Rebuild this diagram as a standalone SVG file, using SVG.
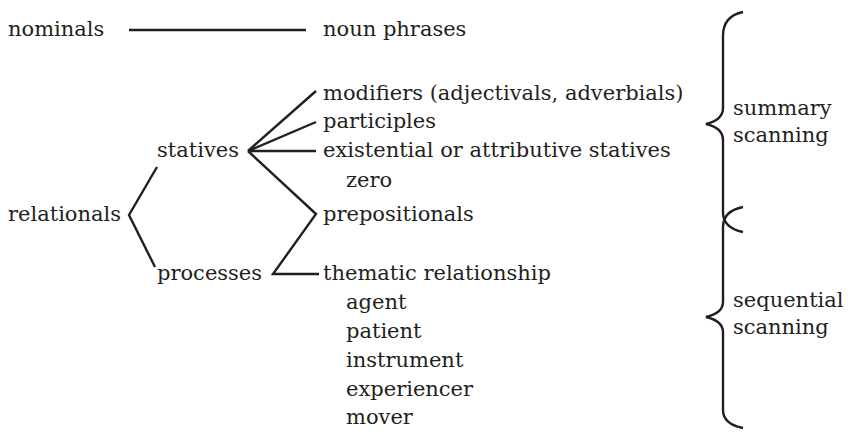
<svg xmlns="http://www.w3.org/2000/svg" width="858" height="445" viewBox="0 0 858 445">
<style>
text{font-family:"DejaVu Serif","Liberation Serif",serif;font-size:21px;fill:#231f20}
.c{fill:none;stroke:#231f20;stroke-width:2.4;stroke-linejoin:miter;stroke-linecap:butt}
</style>
<rect width="858" height="445" fill="#fff"/>
<g id="nominals"><text x="8" y="36">nominals</text></g>
<g id="noun-phrases"><text x="323" y="36">noun phrases</text></g>
<g id="relationals"><text x="8" y="221">relationals</text></g>
<g id="statives"><text x="157" y="157">statives</text></g>
<g id="processes"><text x="157" y="280">processes</text></g>
<g id="modifiers"><text x="323" y="100">modifiers (adjectivals, adverbials)</text></g>
<g id="participles"><text x="323" y="128">participles</text></g>
<g id="existential"><text x="323" y="157">existential or attributive statives</text>
<text x="346" y="187">zero</text></g>
<g id="prepositionals"><text x="323" y="221">prepositionals</text></g>
<g id="thematic"><text x="323" y="280">thematic relationship</text>
<text x="346" y="309">agent</text>
<text x="346" y="338">patient</text>
<text x="346" y="367">instrument</text>
<text x="346" y="396">experiencer</text>
<text x="346" y="424">mover</text></g>
<g id="summary"><text x="733" y="115">summary</text><text x="733" y="142">scanning</text></g>
<g id="sequential"><text x="733" y="307">sequential</text><text x="733" y="334">scanning</text></g>
<g id="connectors">
<line class="c" x1="129" y1="30" x2="306" y2="30"/>
<polyline class="c" points="157,167 129,215 155,267"/>
<line class="c" x1="248" y1="151" x2="316" y2="91"/>
<line class="c" x1="248" y1="151" x2="316" y2="122"/>
<line class="c" x1="248" y1="151" x2="316" y2="151"/>
<polyline class="c" points="248,151 316,214 273,274 319,274"/>
</g>
<g id="braces">
<path class="c" d="M743,12 Q723,16 723,36 L723,108 Q723,120 706,124 Q723,128 723,140 L723,212 Q723,228 743,232"/>
<path class="c" d="M743,207 Q723,211 723,227 L723,302 Q723,313 706,317 Q723,321 723,332 L723,410 Q723,424 743,428"/>
</g>
</svg>
